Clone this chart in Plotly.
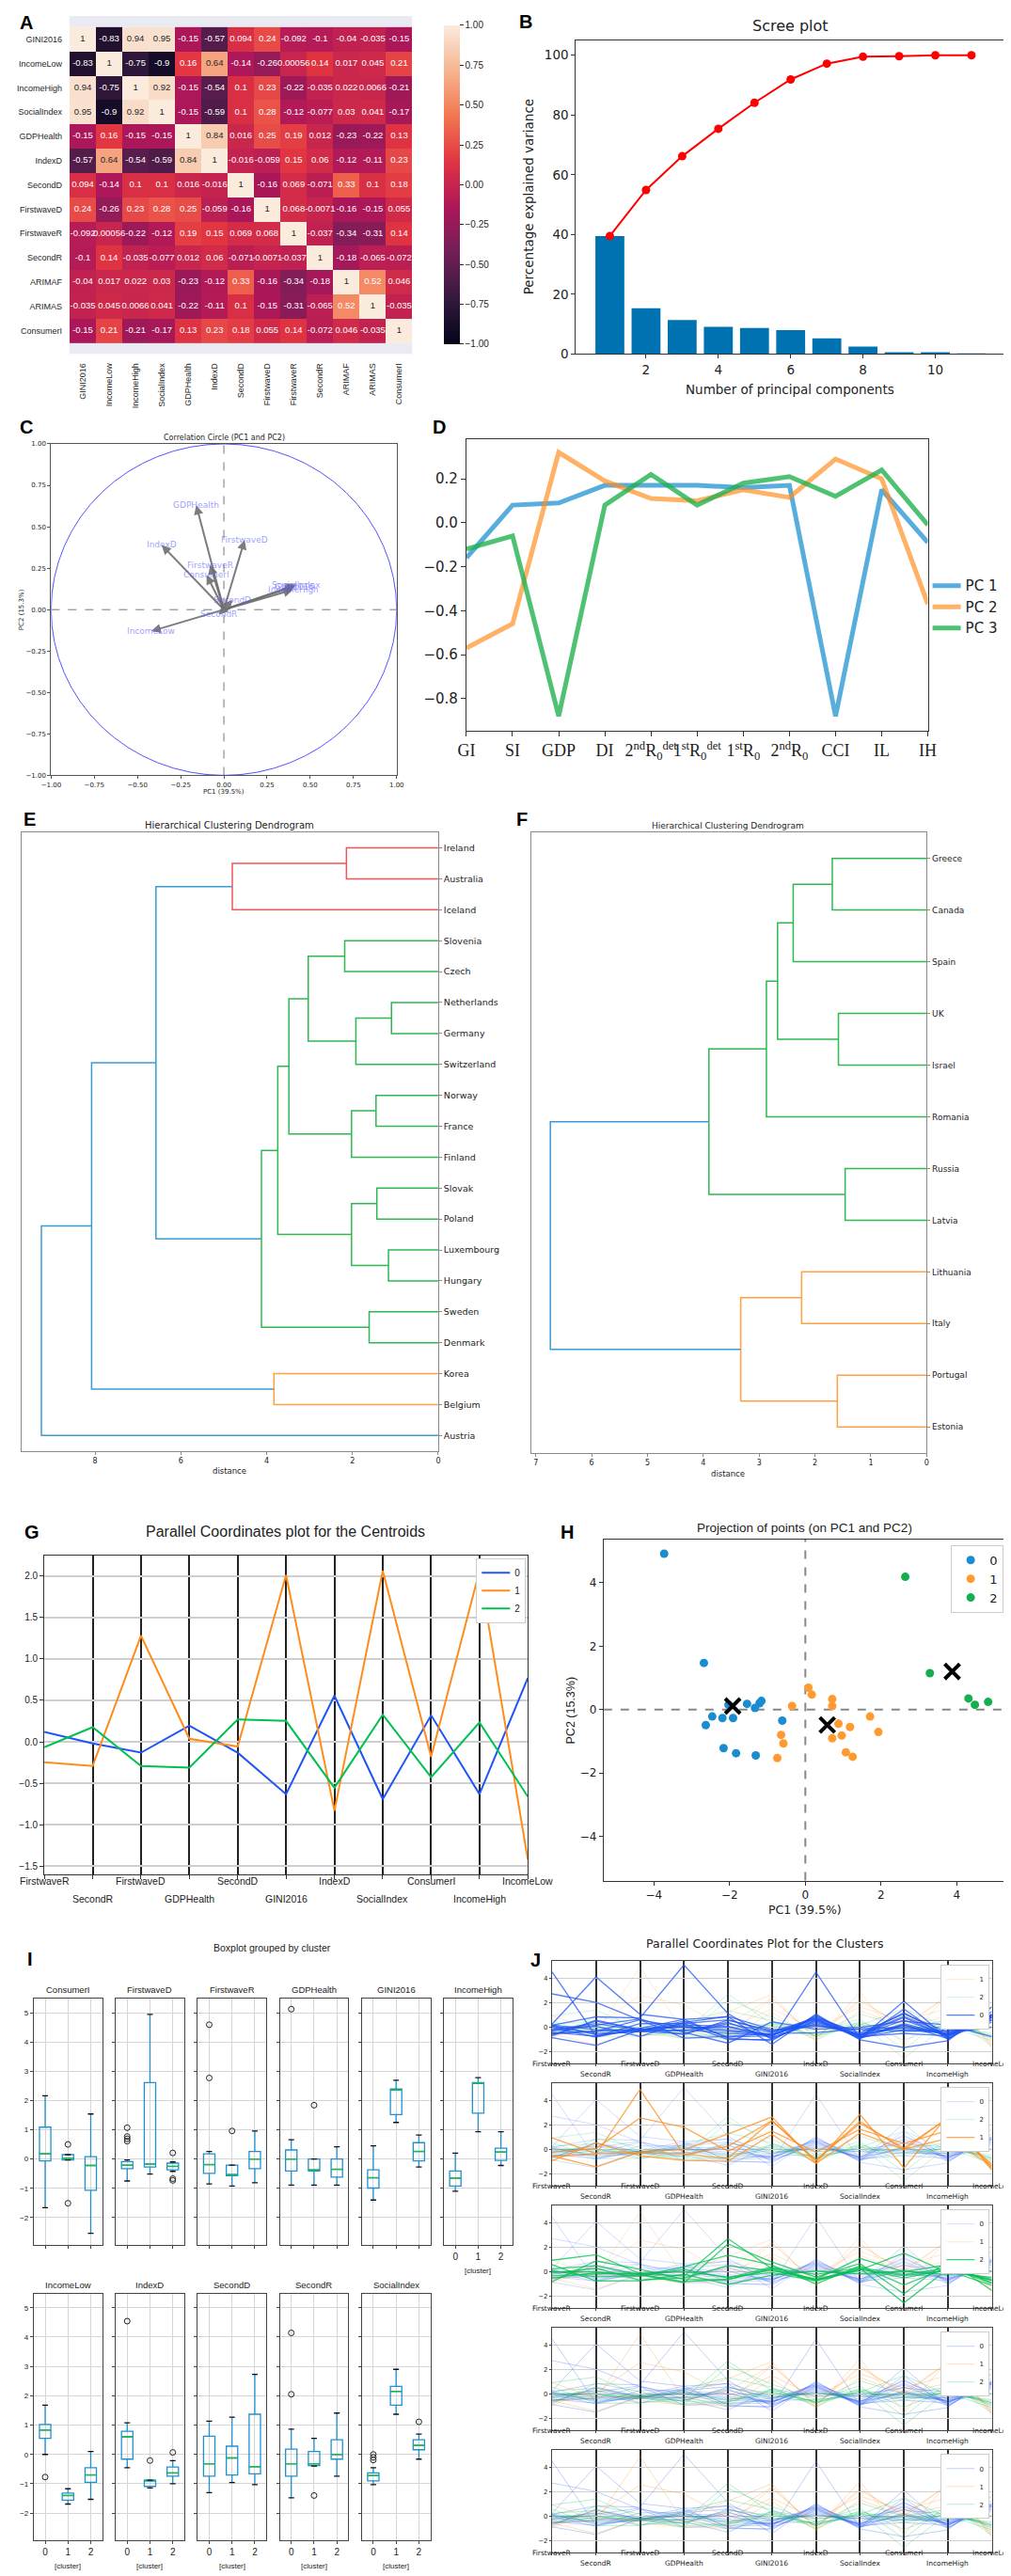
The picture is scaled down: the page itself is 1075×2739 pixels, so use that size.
import plotly.graph_objects as go

W, H = 1075, 2739
SANS = "DejaVu Sans"
ARIAL = "Liberation Sans"
SERIF = "Liberation Serif"

# ======================= DATA =======================
# A: correlation matrix
corr_labels = ["GINI2016", "IncomeLow", "IncomeHigh", "SocialIndex", "GDPHealth", "IndexD",
               "SecondD", "FirstwaveD", "FirstwaveR", "SecondR", "ARIMAF", "ARIMAS", "ConsumerI"]
corr_values = [
    [1, -0.83, 0.94, 0.95, -0.15, -0.57, 0.094, 0.24, -0.092, -0.1, -0.04, -0.035, -0.15],
    [-0.83, 1, -0.75, -0.9, 0.16, 0.64, -0.14, -0.26, 0.00056, 0.14, 0.017, 0.045, 0.21],
    [0.94, -0.75, 1, 0.92, -0.15, -0.54, 0.1, 0.23, -0.22, -0.035, 0.022, 0.0066, -0.21],
    [0.95, -0.9, 0.92, 1, -0.15, -0.59, 0.1, 0.28, -0.12, -0.077, 0.03, 0.041, -0.17],
    [-0.15, 0.16, -0.15, -0.15, 1, 0.84, 0.016, 0.25, 0.19, 0.012, -0.23, -0.22, 0.13],
    [-0.57, 0.64, -0.54, -0.59, 0.84, 1, -0.016, -0.059, 0.15, 0.06, -0.12, -0.11, 0.23],
    [0.094, -0.14, 0.1, 0.1, 0.016, -0.016, 1, -0.16, 0.069, -0.071, 0.33, 0.1, 0.18],
    [0.24, -0.26, 0.23, 0.28, 0.25, -0.059, -0.16, 1, 0.068, -0.0071, -0.16, -0.15, 0.055],
    [-0.092, 0.00056, -0.22, -0.12, 0.19, 0.15, 0.069, 0.068, 1, -0.037, -0.34, -0.31, 0.14],
    [-0.1, 0.14, -0.035, -0.077, 0.012, 0.06, -0.071, -0.0071, -0.037, 1, -0.18, -0.065, -0.072],
    [-0.04, 0.017, 0.022, 0.03, -0.23, -0.12, 0.33, -0.16, -0.34, -0.18, 1, 0.52, 0.046],
    [-0.035, 0.045, 0.0066, 0.041, -0.22, -0.11, 0.1, -0.15, -0.31, -0.065, 0.52, 1, -0.035],
    [-0.15, 0.21, -0.21, -0.17, 0.13, 0.23, 0.18, 0.055, 0.14, -0.072, 0.046, -0.035, 1],
]
colorbar_ticks = [-1, -0.75, -0.5, -0.25, 0, 0.25, 0.5, 0.75, 1]

# B: scree plot
pc_numbers = [1, 2, 3, 4, 5, 6, 7, 8, 9, 10, 11]
explained_variance = [39.5, 15.3, 11.4, 9.1, 8.7, 8.0, 5.2, 2.5, 0.6, 0.6, 0.1]
cumulative_variance = [39.5, 54.9, 66.2, 75.4, 84.1, 91.9, 97.2, 99.5, 99.7, 100.0, 100.0]

# C: correlation circle loadings
circle_vars = ["GDPHealth", "IndexD", "FirstwaveD", "FirstwaveR", "ConsumerI", "SocialIndex",
               "GINI2016", "IncomeHigh", "SecondD", "SecondR", "IncomeLow"]
circle_pc1 = [-0.16, -0.36, 0.12, -0.08, -0.10, 0.42, 0.41, 0.40, 0.05, -0.03, -0.42]
circle_pc2 = [0.63, 0.39, 0.42, 0.27, 0.21, 0.15, 0.14, 0.12, 0.06, -0.03, -0.13]

# D: loadings of the first three PCs
d_ticks = ["GI", "SI", "GDP", "DI", "2<sup>nd</sup>R<sub>0</sub><sup>det</sup>",
           "1<sup>st</sup>R<sub>0</sub><sup>det</sup>", "1<sup>st</sup>R<sub>0</sub>",
           "2<sup>nd</sup>R<sub>0</sub>", "CCI", "IL", "IH"]
d_pc1 = [-0.16, 0.08, 0.09, 0.17, 0.17, 0.17, 0.16, 0.17, -0.88, 0.15, -0.09]
d_pc2 = [-0.57, -0.46, 0.32, 0.19, 0.11, 0.10, 0.15, 0.115, 0.29, 0.20, -0.37]
d_pc3 = [-0.12, -0.06, -0.88, 0.08, 0.22, 0.08, 0.18, 0.21, 0.12, 0.24, -0.01]

# E: dendrogram (leaves top to bottom, merges: child a, child b, distance, colour group)
e_leaves = ["Ireland", "Australia", "Iceland", "Slovenia", "Czech", "Netherlands", "Germany",
            "Switzerland", "Norway", "France", "Finland", "Slovak", "Poland", "Luxembourg",
            "Hungary", "Sweden", "Denmark", "Korea", "Belgium", "Austria"]
e_merges = [
    ("Netherlands", "Germany", 1.09, "g"), ("Luxembourg", "Hungary", 1.16, "g"),
    ("Slovak", "Poland", 1.43, "g"), ("Norway", "France", 1.45, "g"),
    ("Sweden", "Denmark", 1.61, "g"), (0, "Switzerland", 1.92, "g"),
    (3, "Finland", 2.02, "g"), (2, 1, 2.02, "g"), ("Ireland", "Australia", 2.14, "r"),
    ("Slovenia", "Czech", 2.18, "g"), (9, 5, 3.03, "g"), (10, 6, 3.48, "g"),
    (11, 7, 3.74, "g"), ("Korea", "Belgium", 3.83, "o"), (12, 4, 4.12, "g"),
    (8, "Iceland", 4.80, "r"), (15, 14, 6.58, "b"), (16, 13, 8.08, "b"), (17, "Austria", 9.25, "b"),
]
# F: dendrogram
f_leaves = ["Greece", "Canada", "Spain", "UK", "Israel", "Romania", "Russia", "Latvia",
            "Lithuania", "Italy", "Portugal", "Estonia"]
f_merges = [
    ("Russia", "Latvia", 1.46, "g"), ("UK", "Israel", 1.58, "g"), ("Portugal", "Estonia", 1.60, "o"),
    ("Greece", "Canada", 1.69, "g"), ("Lithuania", "Italy", 2.24, "o"), (3, "Spain", 2.39, "g"),
    (5, 1, 2.67, "g"), (6, "Romania", 2.87, "g"), (4, 2, 3.33, "o"), (7, 0, 3.90, "g"),
    (9, 8, 6.74, "b"),
]

# G: centroids
g_vars = ["FirstwaveR", "SecondR", "FirstwaveD", "GDPHealth", "SecondD", "GINI2016", "IndexD",
          "SocialIndex", "ConsumerI", "IncomeHigh", "IncomeLow"]
g_centroid0 = [0.12, -0.02, -0.13, 0.195, -0.13, -0.63, 0.556, -0.69, 0.32, -0.63, 0.77]
g_centroid1 = [-0.245, -0.29, 1.28, 0.038, -0.056, 2.01, -0.83, 2.06, -0.18, 2.06, -1.42]
g_centroid2 = [-0.064, 0.177, -0.29, -0.31, 0.27, 0.252, -0.553, 0.327, -0.425, 0.233, -0.66]

# H: projection of points
h_pc1_c0 = [-3.73, -2.68, -2.63, -2.46, -2.19, -1.91, -2.03, -1.54, -1.33, -1.21, -1.16, -0.61, -2.16, -1.83, -1.31]
h_pc2_c0 = [4.92, 1.47, -0.49, -0.22, -0.27, -0.27, 0.15, 0.18, 0.05, 0.20, 0.27, -0.35, -1.22, -1.38, -1.45]
h_pc1_c1 = [-0.35, 0.08, 0.17, 0.71, 0.71, 0.875, 0.96, 1.18, 0.71, 1.71, 1.93, 1.07, 1.25, -0.64, -0.58, -0.74]
h_pc2_c1 = [0.11, 0.69, 0.47, 0.33, 0.11, -0.45, -0.82, -0.55, -0.91, -0.22, -0.71, -1.35, -1.49, -0.80, -1.07, -1.53]
h_pc1_c2 = [2.64, 3.29, 4.31, 4.48, 4.83]
h_pc2_c2 = [4.19, 1.15, 0.35, 0.15, 0.24]
h_centroid_pc1 = [-1.92, 0.58, 3.88]
h_centroid_pc2 = [0.11, -0.49, 1.20]

# I: boxplot statistics per variable, clusters 0,1,2
box_vars = ["ConsumerI", "FirstwaveD", "FirstwaveR", "GDPHealth", "GINI2016", "IncomeHigh",
            "IncomeLow", "IndexD", "SecondD", "SecondR", "SocialIndex"]
box_low = [[-1.66, -0.03, -2.54], [-0.75, -0.51, -0.42], [-0.85, -0.92, -0.81], [-0.89, -0.89, -0.89],
           [-1.4, 1.25, -0.27], [-1.1, 0.93, -0.22], [0.0, -1.69, -1.53], [-0.45, -1.14, -1.0],
           [-1.30, -0.96, -1.03], [-1.48, -0.40, -0.74], [-1.03, 1.37, -0.16]]
box_q1 = [[-0.06, -0.03, -1.07], [-0.33, -0.27, -0.37], [-0.49, -0.57, -0.33], [-0.41, -0.41, -0.62],
          [-0.99, 1.52, -0.06], [-0.92, 1.57, -0.05], [0.55, -1.56, -0.95], [-0.16, -1.09, -0.74],
          [-0.74, -0.70, -0.66], [-0.74, -0.38, -0.16], [-0.90, 1.68, 0.16]]
box_median = [[0.18, 0.03, -0.22], [-0.21, -0.17, -0.25], [-0.19, -0.53, 0.0], [0.0, -0.37, -0.35],
              [-0.64, 2.37, 0.26], [-0.65, 2.59, 0.24], [0.83, -1.40, -0.70], [0.6, -0.88, -0.63],
              [-0.32, -0.12, -0.42], [-0.32, -0.32, 0.0], [-0.72, 2.15, 0.31]]
box_q3 = [[1.09, 0.15, 0.08], [-0.085, 2.61, -0.14], [0.18, -0.21, 0.26], [0.31, 0.0, 0.0],
          [-0.37, 2.39, 0.56], [-0.41, 2.61, 0.37], [1.02, -1.32, -0.45], [0.79, -0.88, -0.43],
          [0.62, 0.28, 1.37], [0.18, 0.10, 0.50], [-0.63, 2.32, 0.50]]
box_high = [[2.16, 0.15, 1.54], [-0.03, 4.94, -0.10], [0.26, -0.21, 0.96], [0.66, 0.0, 0.42],
            [0.45, 2.69, 0.82], [0.2, 2.78, 0.93], [1.68, -1.17, 0.1], [1.08, -0.88, -0.21],
            [1.13, 1.27, 2.73], [0.86, 0.55, 1.41], [-0.45, 2.90, 0.69]]
box_fliers = [[(1, 0.5), (1, -1.51)],
              [(0, 1.07), (0, 0.77), (0, 0.69), (0, 0.61), (2, 0.21), (2, -0.67), (2, -0.73)],
              [(0, 4.59), (0, 2.77), (1, 0.96)],
              [(0, 5.12), (1, 1.84)],
              [], [],
              [(0, -0.77)],
              [(0, 4.54), (1, -0.21), (2, 0.07)],
              [],
              [(0, 4.14), (0, 2.05), (1, -1.40)],
              [(0, 0.0), (0, -0.1), (0, -0.19), (2, 1.11)]]

# J: standardized values per country (same variable order as g_vars)
j_cluster0 = [
    [4.55, -0.74, 0.3, 0.31, 0.62, -0.37, 0.79, -0.45, 1.09, -0.41, 0.55],
    [2.75, 2.05, 0.6, 0.0, -0.32, -0.64, 0.6, -0.72, 0.18, -0.65, 0.83],
    [0.26, 4.14, 1.07, 0.66, 0.86, -1.4, 1.08, -1.03, -1.66, -1.1, 1.68],
    [0.18, 0.86, 0.77, 5.12, 1.13, -0.99, 4.54, -0.9, 2.15, -0.92, 1.02],
    [-0.19, 0.18, 0.69, -0.41, -1.3, 0.45, -0.16, 0.0, 0.5, 0.2, -0.77],
    [-0.49, -0.32, 0.61, -0.89, -0.74, -0.5, -0.45, -0.1, -0.06, -0.5, 0.0],
    [-0.85, -1.48, -0.21, 0.2, 0.1, -0.8, 0.3, -0.63, 0.8, -0.8, 1.0],
    [0.1, -0.5, -0.33, -0.2, -0.5, -0.64, 0.7, -0.8, 0.3, -0.6, 0.9],
    [-0.3, 0.1, -0.75, 0.4, 0.9, -0.2, 0.1, -0.19, -0.3, -0.3, 0.6],
    [0.0, -0.8, -0.085, 0.66, -0.9, -1.1, 1.0, -0.95, 1.5, -1.0, 1.3],
    [-0.6, 0.5, -0.2, -0.3, 0.4, -0.9, 0.5, -0.75, -0.5, -0.7, 0.8],
    [0.2, -0.2, -0.3, 0.1, -0.2, -0.6, 0.8, -0.7, 0.6, -0.65, 0.7],
    [-0.4, -0.74, -0.1, -0.6, 0.6, -0.3, 0.2, -0.55, 0.0, -0.35, 0.4],
    [-0.2, 0.3, -0.25, 0.5, -0.8, -0.7, 0.9, -0.63, 1.2, -0.75, 1.1],
    [0.15, -0.6, -0.35, -0.5, 0.3, -0.45, 0.7, -0.85, -0.2, -0.5, 0.9],
    [-0.7, 0.6, -0.2, 0.3, -1.0, -0.99, 0.6, -0.9, 0.2, -0.92, 0.85],
    [-0.5, -0.3, -0.15, 0.0, 0.0, -0.6, 0.4, -0.6, 0.9, -0.6, 1.0],
]
j_cluster1 = [
    [-0.57, -0.38, 4.94, -0.41, 0.28, 2.39, -0.88, 2.32, -0.03, 2.61, -1.56],
    [-0.21, 0.1, 2.61, 1.84, -0.12, 1.52, -0.21, 1.68, 0.5, 1.57, -1.17],
    [-0.53, -1.4, -0.17, 0.0, 1.27, 2.69, -1.09, 2.9, -1.51, 2.78, -1.69],
    [0.96, -0.32, -0.27, -0.37, -0.70, 2.37, -0.88, 2.15, 0.15, 2.59, -1.40],
    [-0.92, 0.55, -0.51, -0.89, -0.96, 1.25, -1.14, 1.37, 0.03, 0.93, -1.32],
]
j_cluster2 = [
    [0.96, 1.41, -0.14, -0.35, 2.73, 0.26, -0.63, 0.31, -2.54, 0.24, -0.70],
    [0.26, 0.5, -0.25, -0.89, 2.3, 0.82, -0.43, 0.69, -1.8, 0.93, -1.53],
    [0.0, 0.0, -0.37, 0.42, 1.37, 0.56, -1.0, 0.5, -1.07, 0.37, -0.95],
    [-0.33, -0.16, -0.1, 0.0, -0.42, -0.06, -0.74, 0.16, 1.54, -0.05, -0.45],
    [-0.81, 0.9, 0.21, -0.62, -0.66, 0.3, -0.21, 0.35, -0.22, 0.3, -0.7],
    [0.6, -0.74, -0.73, -0.2, -1.03, -0.27, 0.07, -0.16, 0.07, -0.22, 0.1],
    [-0.1, 0.3, -0.67, -0.5, 0.5, 0.1, -0.6, 1.11, 0.0, 0.6, -0.9],
    [0.1, -0.4, -0.3, 0.2, -0.5, 0.4, -0.65, 0.25, -0.5, 0.2, -0.6],
    [-0.5, -0.05, -0.2, -0.8, -0.6, 0.2, -0.7, 0.2, -0.3, 0.1, -1.1],
]

# ======================= STYLE =======================
ROCKET = [[0.0, "#03051A"], [0.142857, "#35193E"], [0.285714, "#701F57"], [0.428571, "#AD1759"],
          [0.571429, "#E13342"], [0.714286, "#F37651"], [0.857143, "#F6B48F"], [1.0, "#FAEBDD"]]
DEN_COL = {"r": "#F0555A", "g": "#2DB850", "o": "#FFA043", "b": "#3A9BD4"}
CL_COL = ["#1F55F5", "#FF8C1A", "#00C050"]
H_COL = ["#1A8CD0", "#FF9A30", "#14B04E"]
BOX_BLUE = "#1F90D2"
FR = "#333333"

layout = dict(width=W, height=H, margin=dict(l=0, r=0, t=0, b=0), paper_bgcolor="white",
              plot_bgcolor="white", font=dict(family=SANS, size=10, color="#222"), showlegend=True)
annotations = []
shapes = []
fig = go.Figure()


def refs(i):
    return ("x" if i == 1 else f"x{i}", "y" if i == 1 else f"y{i}")


def set_axes(i, xr, yr, xo, yo):
    xa, ya = refs(i)
    xo = dict(xo)
    yo = dict(yo)
    xo.update(domain=[xr[0] / W, xr[1] / W], anchor=ya)
    yo.update(domain=[1 - yr[1] / H, 1 - yr[0] / H], anchor=xa)
    layout["xaxis" if i == 1 else f"xaxis{i}"] = xo
    layout["yaxis" if i == 1 else f"yaxis{i}"] = yo


def frame(size=10, family=SANS, color=FR, **kw):
    d = dict(showline=True, mirror=True, linecolor=color, linewidth=1, zeroline=False, showgrid=False,
             ticks="outside", ticklen=4, tickcolor=color, tickangle=0,
             tickfont=dict(size=size, family=family, color="#222"))
    d.update(kw)
    return d


def txt(x, y, s, size, family=SANS, color="#222", angle=0, xanchor="center", yanchor="middle", bold=False):
    if bold:
        s = f"<b>{s}</b>"
    annotations.append(dict(x=x / W, y=1 - y / H, xref="paper", yref="paper", text=s, showarrow=False,
                            textangle=angle, xanchor=xanchor, yanchor=yanchor,
                            font=dict(size=size, family=family, color=color)))


def minus(s):
    return s.replace("-", "\u2212")


# panel letters
for letter, (lx, ly) in {"A": (9, 12), "B": (550, 11), "C": (9, 444), "D": (456, 444), "E": (13, 863),
                         "F": (546, 863), "G": (15, 1624), "H": (595, 1624), "I": (13, 2080),
                         "J": (560, 2081)}.items():
    txt(lx, ly, letter, 20, family=ARIAL, color="black", bold=True)

# ======================= A: heatmap =======================
def hex2rgb(h):
    h = h.lstrip("#")
    return tuple(int(h[k:k + 2], 16) / 255 for k in (0, 2, 4))


def rocket_rgb(v):
    t = (v + 1) / 2
    for (p0, c0), (p1, c1) in zip(ROCKET[:-1], ROCKET[1:]):
        if p0 <= t <= p1:
            f = (t - p0) / (p1 - p0)
            a, b = hex2rgb(c0), hex2rgb(c1)
            return tuple(a[k] + (b[k] - a[k]) * f for k in range(3))
    return hex2rgb(ROCKET[-1][1])


def luminance(rgb):
    lin = [c / 12.92 if c <= 0.03928 else ((c + 0.055) / 1.055) ** 2.4 for c in rgb]
    return 0.2126 * lin[0] + 0.7152 * lin[1] + 0.0722 * lin[2]


n = len(corr_labels)
fig.add_trace(go.Heatmap(z=corr_values, x=list(range(n)), y=list(range(n)), colorscale=ROCKET,
                         zmin=-1, zmax=1, xaxis="x", yaxis="y", hoverinfo="skip",
                         colorbar=dict(x=451 / W, xanchor="left", y=1 - 5 / H, yanchor="top",
                                       len=361 / H, lenmode="fraction", thickness=17, outlinewidth=0,
                                       tickvals=colorbar_ticks,
                                       ticktext=[minus(f"{v:.2f}") for v in colorbar_ticks],
                                       ticks="outside", ticklen=4, tickcolor="#262626",
                                       tickfont=dict(size=10, family=ARIAL, color="#262626"))))
for dark in (True, False):
    xs, ys, ts = [], [], []
    for r in range(n):
        for c in range(n):
            v = corr_values[r][c]
            is_dark = luminance(rocket_rgb(v)) > 0.408
            if is_dark == dark:
                xs.append(c)
                ys.append(r)
                ts.append(format(v, ".2g"))
    fig.add_trace(go.Scatter(x=xs, y=ys, text=ts, mode="text", xaxis="x", yaxis="y", showlegend=False,
                             hoverinfo="skip",
                             textfont=dict(size=9.5, family=ARIAL, color="#262626" if dark else "white")))
set_axes(1, (56, 427), (5, 366),
         dict(range=[-0.5, n - 0.5], tickvals=list(range(n)), ticktext=corr_labels, tickangle=-90,
              showgrid=False, zeroline=False, showline=False, ticks="", ticklabelstandoff=7,
              tickfont=dict(size=9, family=ARIAL, color="#262626")),
         dict(range=[n - 0.5 + 0.46, -0.5 - 0.46], tickvals=list(range(n)), ticktext=corr_labels,
              showgrid=False, zeroline=False, showline=False, ticks="", ticklabelstandoff=7,
              tickfont=dict(size=9, family=ARIAL, color="#262626")))
for y0, y1 in ((-0.96, -0.5), (n - 0.5, n - 0.5 + 0.46)):
    shapes.append(dict(type="rect", xref="x", yref="y", x0=-0.5, x1=n - 0.5, y0=y0, y1=y1,
                       fillcolor="#EAEAF2", line=dict(width=0), layer="below"))

# ======================= B: scree plot =======================
fig.add_trace(go.Bar(x=pc_numbers, y=explained_variance, width=0.8, marker=dict(color="#0072B2", line=dict(width=0)),
                     xaxis="x2", yaxis="y2", showlegend=False, hoverinfo="skip"))
fig.add_trace(go.Scatter(x=pc_numbers, y=cumulative_variance, mode="lines+markers", xaxis="x2", yaxis="y2",
                         line=dict(color="red", width=2), marker=dict(color="red", size=9),
                         showlegend=False, hoverinfo="skip"))
set_axes(2, (604, 1069), (31, 366),
         frame(13.5, range=[0.06, 11.94], tickvals=[2, 4, 6, 8, 10]),
         frame(13.5, range=[0, 105], tickvals=[0, 20, 40, 60, 80, 100]))
txt(836, 16, "Scree plot", 16)
txt(836, 404, "Number of principal components", 13.5)
txt(553, 198, "Percentage explained variance", 13.5, angle=-90)

# ======================= C: correlation circle =======================
c_t = [-1, -0.75, -0.5, -0.25, 0, 0.25, 0.5, 0.75, 1]
set_axes(3, (36, 410), (462, 816),
         frame(7, color="#555", range=[-1, 1], tickvals=c_t, ticktext=[minus(f"{v:.2f}") for v in c_t], ticklen=3),
         frame(7, color="#555", range=[-1, 1], tickvals=c_t, ticktext=[minus(f"{v:.2f}") for v in c_t], ticklen=3))
shapes.append(dict(type="circle", xref="x3", yref="y3", x0=-1, x1=1, y0=-1, y1=1,
                   line=dict(color="rgba(40,40,255,0.8)", width=1)))
shapes.append(dict(type="line", xref="x3", yref="y3", x0=0, x1=0, y0=-1, y1=1,
                   line=dict(color="#777", width=1, dash="dash")))
shapes.append(dict(type="line", xref="x3", yref="y3", x0=-1, x1=1, y0=0, y1=0,
                   line=dict(color="#777", width=1, dash="dash")))
fig.add_trace(go.Scatter(x=[0], y=[0], mode="markers", marker=dict(size=1, color="rgba(0,0,0,0)"),
                         xaxis="x3", yaxis="y3", showlegend=False, hoverinfo="skip"))
for name, vx, vy in zip(circle_vars, circle_pc1, circle_pc2):
    annotations.append(dict(x=vx, y=vy, xref="x3", yref="y3", ax=0, ay=0, axref="x3", ayref="y3",
                            showarrow=True, arrowhead=2, arrowsize=1, arrowwidth=2,
                            arrowcolor="rgba(110,110,110,0.9)", text=""))
for name, vx, vy in zip(circle_vars, circle_pc1, circle_pc2):
    annotations.append(dict(x=vx, y=vy, xref="x3", yref="y3", text=name, showarrow=False,
                            font=dict(size=9, family=SANS, color="rgba(90,90,255,0.6)")))
txt(223, 455, "Correlation Circle (PC1 and PC2)", 8)
txt(223, 834, "PC1 (39.5%)", 7)
txt(4, 639, "PC2 (15.3%)", 7, angle=-90)

# ======================= D: PC loadings =======================
for name, vals, col in (("PC 1", d_pc1, "rgba(40,150,210,0.78)"), ("PC 2", d_pc2, "rgba(255,140,30,0.68)"),
                        ("PC 3", d_pc3, "rgba(30,175,75,0.78)")):
    fig.add_trace(go.Scatter(x=list(range(len(d_ticks))), y=vals, mode="lines", name=name,
                             line=dict(color=col, width=5), xaxis="x4", yaxis="y4", legend="legend",
                             hoverinfo="skip"))
d_yt = [-0.8, -0.6, -0.4, -0.2, 0.0, 0.2]
set_axes(4, (485.5, 985), (457, 768),
         frame(18, family=SERIF, range=[0, 10], tickvals=list(range(11)), ticktext=d_ticks, ticklen=5,
               tickangle=0, automargin=False),
         frame(15, range=[-0.945, 0.38], tickvals=d_yt, ticktext=[minus(f"{v:.1f}") for v in d_yt], ticklen=5))
layout["legend"] = dict(x=985 / W, y=1 - 597 / H, xanchor="left", yanchor="top", bgcolor="rgba(0,0,0,0)",
                        font=dict(size=15, family=SANS, color="#222"), itemwidth=30, tracegroupgap=0,
                        borderwidth=0)

# ======================= E, F: dendrograms =======================
def dendro(leaves, merges):
    pos = {name: (10 * i + 5, 0.0) for i, name in enumerate(leaves)}
    nodes = []
    segs = {}
    for a, b, d, col in merges:
        pa = pos[a] if isinstance(a, str) else nodes[a]
        pb = pos[b] if isinstance(b, str) else nodes[b]
        xs, ys = segs.setdefault(col, ([], []))
        xs.extend([pa[1], d, d, pb[1], None])
        ys.extend([pa[0], pa[0], pb[0], pb[0], None])
        nodes.append(((pa[0] + pb[0]) / 2, d))
    return segs, nodes[-1][1]


for idx, leaves, merges, xr, yr, ttx, lsize in ((5, e_leaves, e_merges, (4, 455), (877, 1537.5), 229, 9.5),
                                               (6, f_leaves, f_merges, (556, 983.7), (877, 1539.5), 769, 9)):
    segs, top = dendro(leaves, merges)
    xa, ya = refs(idx)
    for col in ("r", "o", "g", "b"):
        if col in segs:
            fig.add_trace(go.Scatter(x=segs[col][0], y=segs[col][1], mode="lines", xaxis=xa, yaxis=ya,
                                     line=dict(color=DEN_COL[col], width=1.5), showlegend=False,
                                     hoverinfo="skip"))
    nl = len(leaves)
    xt = list(range(0, int(top * 1.05) + 1, 2 if idx == 5 else 1))
    set_axes(idx, xr, yr,
             frame(8, color="#8a8a8a", range=[top * 1.05, 0], tickvals=xt, ticklen=3),
             frame(lsize, color="#8a8a8a", range=[10 * nl, 0], tickvals=[10 * i + 5 for i in range(nl)],
                   ticktext=leaves, side="right", ticklen=3))
    txt(ttx, 869.5, "Hierarchical Clustering Dendrogram", 10 if idx == 5 else 9)
    txt(ttx, 1559 if idx == 5 else 1562, "distance", 8.5)

# ======================= G: centroid parallel coordinates =======================
for k, vals in enumerate((g_centroid0, g_centroid1, g_centroid2)):
    fig.add_trace(go.Scatter(x=list(range(len(g_vars))), y=vals, mode="lines", name=str(k), xaxis="x7",
                             yaxis="y7", line=dict(color=CL_COL[k], width=2), legend="legend2",
                             hoverinfo="skip"))
g_yt = [-1.5, -1.0, -0.5, 0.0, 0.5, 1.0, 1.5, 2.0]
set_axes(7, (28.6, 552), (1649, 1990),
         frame(10, family=ARIAL, range=[0, 10], tickvals=list(range(11)), showticklabels=False,
               showgrid=True, gridcolor="#222", gridwidth=1.5, ticklen=4),
         frame(10, family=ARIAL, range=[-1.6, 2.247], tickvals=g_yt, ticktext=[minus(f"{v:.1f}") for v in g_yt],
               showgrid=True, gridcolor="#cfcfcf", gridwidth=1.5))
for i, v in enumerate(g_vars):
    annotations.append(dict(x=i, xref="x7", y=1 - (2005 if i % 2 == 0 else 2024) / H, yref="paper", text=v,
                            showarrow=False, font=dict(size=10.5, family=ARIAL, color="#222")))
txt(290, 1624, "Parallel Coordinates plot for the Centroids", 16, family=ARIAL)
layout["legend2"] = dict(x=550 / W, y=1 - 1652 / H, xanchor="right", yanchor="top", bgcolor="white",
                         bordercolor="#cccccc", borderwidth=1, font=dict(size=10, family=ARIAL),
                         itemwidth=30, tracegroupgap=0)

# ======================= H: projection =======================
for k, (px_, py_) in enumerate(((h_pc1_c0, h_pc2_c0), (h_pc1_c1, h_pc2_c1), (h_pc1_c2, h_pc2_c2))):
    fig.add_trace(go.Scatter(x=px_, y=py_, mode="markers", name=str(k), xaxis="x8", yaxis="y8",
                             marker=dict(color=H_COL[k], size=9), legend="legend3", hoverinfo="skip"))
fig.add_trace(go.Scatter(x=h_centroid_pc1, y=h_centroid_pc2, mode="markers", xaxis="x8", yaxis="y8",
                         marker=dict(symbol="x-thin", size=16, line=dict(color="black", width=4)),
                         showlegend=False, hoverinfo="skip"))
h_t = [-4, -2, 0, 2, 4]
set_axes(8, (634, 1072.4), (1632, 1996.3),
         frame(12, range=[-5.33, 5.37], tickvals=h_t, ticktext=[minus(str(v)) for v in h_t]),
         frame(12, range=[-5.4, 5.37], tickvals=h_t, ticktext=[minus(str(v)) for v in h_t]))
shapes.append(dict(type="line", xref="x8", yref="y8 domain", x0=0, x1=0, y0=0, y1=1,
                   line=dict(color="#888", width=2, dash="dash"), layer="below"))
shapes.append(dict(type="line", xref="x8 domain", yref="y8", x0=0, x1=1, y0=0, y1=0,
                   line=dict(color="#888", width=2, dash="dash"), layer="below"))
txt(852, 1620, "Projection of points (on PC1 and PC2)", 13.5, family=ARIAL)
txt(852, 2027, "PC1 (39.5%)", 12.5)
txt(599, 1814, "PC2 (15.3%)", 12.5, angle=-90, family=ARIAL)
layout["legend3"] = dict(x=1067 / W, y=1 - 1638 / H, xanchor="right", yanchor="top", bgcolor="white",
                         bordercolor="#cccccc", borderwidth=1, font=dict(size=13), itemwidth=30,
                         tracegroupgap=0)

# ======================= I: boxplots =======================
for k, var in enumerate(box_vars):
    row, col = (0, k) if k < 6 else (1, k - 6)
    idx = 9 + k
    xa, ya = refs(idx)
    fig.add_trace(go.Box(x=[0, 1, 2], q1=box_q1[k], median=box_median[k], q3=box_q3[k],
                         lowerfence=box_low[k], upperfence=box_high[k], width=0.5, whiskerwidth=0,
                         boxpoints=False, fillcolor="rgba(0,0,0,0)", line=dict(color=BOX_BLUE, width=1.3),
                         xaxis=xa, yaxis=ya, showlegend=False, hoverinfo="skip"))
    mx, my, cx, cy = [], [], [], []
    for c in range(3):
        mx += [c - 0.25, c + 0.25, None]
        my += [box_median[k][c]] * 2 + [None]
        for v in (box_low[k][c], box_high[k][c]):
            cx += [c - 0.125, c + 0.125, None]
            cy += [v, v, None]
    fig.add_trace(go.Scatter(x=mx, y=my, mode="lines", line=dict(color="#1DB84A", width=1.5), xaxis=xa,
                             yaxis=ya, showlegend=False, hoverinfo="skip"))
    fig.add_trace(go.Scatter(x=cx, y=cy, mode="lines", line=dict(color="#111", width=1.3), xaxis=xa,
                             yaxis=ya, showlegend=False, hoverinfo="skip"))
    if box_fliers[k]:
        fig.add_trace(go.Scatter(x=[f[0] for f in box_fliers[k]], y=[f[1] for f in box_fliers[k]],
                                 mode="markers", marker=dict(symbol="circle-open", size=6, color="#222",
                                                             line=dict(width=1)),
                                 xaxis=xa, yaxis=ya, showlegend=False, hoverinfo="skip"))
    left = 17.2 + 88.8 * col
    top, bottom = ((2122.7, 2385) if row == 0 else (2437.7, 2700.7))
    bottom_of_col = (row == 1) or (col == 5)
    set_axes(idx, (left, left + 74), (top, bottom),
             frame(10, family=ARIAL, color="#444", range=[-0.5, 2.5], tickvals=[0, 1, 2], ticktext=["0", "1", "2"],
                   showticklabels=bottom_of_col, showgrid=True, gridcolor="#d5d5d5", ticklen=3),
             frame(8, family=ARIAL, color="#444", range=[-2.92, 5.47], tickvals=[-2, -1, 0, 1, 2, 3, 4, 5],
                   ticktext=[minus(str(v)) for v in [-2, -1, 0, 1, 2, 3, 4, 5]],
                   showticklabels=(col == 0), showgrid=True, gridcolor="#d5d5d5", ticklen=3))
    txt(left + 37, top - 10, var, 9.5, family=ARIAL)
    if bottom_of_col:
        txt(left + 37, bottom + 28, "[cluster]", 8, family=ARIAL)
txt(275, 2068, "Boxplot grouped by cluster", 10.5, family=ARIAL)

# ======================= J: parallel coordinates per cluster =======================
j_data = [j_cluster0, j_cluster1, j_cluster2]
j_focus = [0, 1, 2, None, None]
j_order = [[1, 2, 0], [0, 2, 1], [0, 1, 2], [0, 1, 2], [0, 1, 2]]
for p in range(5):
    idx = 20 + p
    xa, ya = refs(idx)
    lg = f"legend{4 + p}"
    for cl in j_order[p]:
        if j_focus[p] is None:
            op, wd = 0.28, 1.0
        elif cl == j_focus[p]:
            op, wd = 0.75, 1.3
        else:
            op, wd = 0.2, 1.0
        for r, vals in enumerate(j_data[cl]):
            fig.add_trace(go.Scatter(x=list(range(len(g_vars))), y=vals, mode="lines", name=str(cl),
                                     legendgroup=f"{p}-{cl}", showlegend=(r == 0), legend=lg, opacity=op,
                                     line=dict(color=CL_COL[cl], width=wd), xaxis=xa, yaxis=ya,
                                     hoverinfo="skip"))
    top = 2082.3 + 130.6 * p
    bottom = top + 109.5
    set_axes(idx, (578.2, 1054.3), (top, bottom),
             frame(7, color="#444", range=[0, 10], tickvals=list(range(11)), showticklabels=False,
                   showgrid=True, gridcolor="#333", gridwidth=1.5, ticklen=2),
             frame(7, color="#444", range=[-2.98, 5.44], tickvals=[-2, 0, 2, 4],
                   ticktext=[minus(str(v)) for v in [-2, 0, 2, 4]], showgrid=True, gridcolor="#d0d0d0",
                   ticklen=2))
    for i, v in enumerate(g_vars):
        annotations.append(dict(x=i, xref=xa, y=1 - (bottom + (7 if i % 2 == 0 else 18)) / H, yref="paper",
                                text=v, showarrow=False, font=dict(size=7.5, family=SANS, color="#222")))
    layout[lg] = dict(x=1052 / W, y=1 - (top + 4) / H, xanchor="right", yanchor="top", bgcolor="white",
                      bordercolor="#cccccc", borderwidth=1, font=dict(size=7), itemwidth=30, tracegroupgap=0)
txt(809, 2064, "Parallel Coordinates Plot for the Clusters", 12.5)

layout["annotations"] = annotations
layout["shapes"] = shapes
fig.update_layout(**layout)
fig.write_html("out.html")
